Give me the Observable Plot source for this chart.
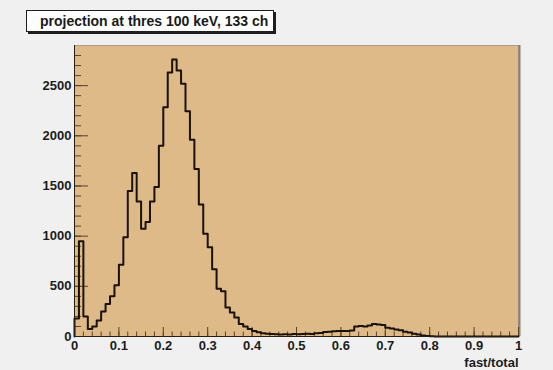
<!DOCTYPE html>
<html>
<head>
<meta charset="utf-8">
<script src="https://cdn.jsdelivr.net/npm/d3@7"></script>
<script src="https://cdn.jsdelivr.net/npm/@observablehq/plot@0.6"></script>
<style>
  body { margin: 0; background: #f0f0f0; font-family: "Liberation Sans", Arial, Helvetica, sans-serif; }
  #wrap { position: relative; width: 553px; height: 370px; }
  #title {
    position: absolute; left: 26px; top: 10px; width: 248px; height: 22px;
    box-sizing: border-box; background: #fdfdfd; border: 1px solid #1e1e1e;
    box-shadow: 2px 2px 0 #1e1e1e; font-weight: bold; font-size: 14px;
    line-height: 20px; padding-left: 13px; color: #1a1a1a; white-space: nowrap;
  }
  svg { display: block; }
</style>
</head>
<body>
<div id="wrap">
  <div id="title"></div>
</div>
<script>
// Histogram title and axis title
const titleText = "projection at thres 100 keV, 133 ch";
const xTitle = "fast/total";

// 100 bins of width 0.01 over fast/total in [0, 1]
const binWidth = 0.01;
const counts = [
  180, 950, 200, 75, 100, 160, 250, 325, 400, 510,
  715, 990, 1450, 1630, 1345, 1075, 1140, 1345, 1490, 1900,
  2285, 2630, 2760, 2650, 2520, 2245, 1960, 1670, 1315, 1025,
  890, 670, 475, 450, 290, 240, 190, 125, 100, 75,
  55, 42, 32, 28, 25, 22, 20, 22, 20, 24,
  22, 25, 28, 26, 32, 35, 45, 48, 52, 55,
  55, 55, 60, 100, 105, 100, 110, 125, 120, 115,
  88, 80, 70, 62, 48, 40, 28, 20, 10, 5,
  3, 0, 0, 0, 0, 0, 0, 0, 0, 0,
  0, 0, 0, 0, 0, 0, 0, 0, 0, 0
];

// Axis tick values and labels
const xMajor = [0, 0.1, 0.2, 0.3, 0.4, 0.5, 0.6, 0.7, 0.8, 0.9, 1];
const xLabels = ["0", "0.1", "0.2", "0.3", "0.4", "0.5", "0.6", "0.7", "0.8", "0.9", "1"];
const yMajor = [0, 500, 1000, 1500, 2000, 2500];
const yMax = 2900;

document.getElementById("title").textContent = titleText;

// Outline of the histogram as a step path over the bin edges
const steps = [{x: 0, y: 0}]
  .concat(counts.map((c, i) => ({x: i * binWidth, y: c})))
  .concat([{x: 1, y: counts[counts.length - 1]}, {x: 1, y: 0}]);

const xMinor = d3.range(0, 51).map(i => i / 50);
const yMinor = d3.range(0, 29).map(i => i * 100);

const W = 553, H = 370;
const mL = 74, mR = 35, mT = 45, mB = 34;
const innerW = W - mL - mR, innerH = H - mT - mB;

const tickColor = "#5c4128";
const textStyle = {fontSize: 13, fontWeight: "bold", fill: "#1c1c1c"};

const chart = Plot.plot({
  width: W,
  height: H,
  marginLeft: mL,
  marginRight: mR,
  marginTop: mT,
  marginBottom: mB,
  style: {background: "transparent", fontFamily: "'Liberation Sans', Arial, sans-serif"},
  x: {domain: [0, 1]},
  y: {domain: [0, yMax]},
  marks: [
    Plot.frame({fill: "#deba88", stroke: "#a89b8a"}),
    Plot.ruleX([1], {stroke: "#8a7f70", strokeWidth: 2, dx: 1}),
    // minor and major ticks, pointing into the frame
    Plot.tickY(yMinor, {y: d => d, stroke: tickColor, insetRight: innerW - 7}),
    Plot.tickY(yMajor, {y: d => d, stroke: tickColor, insetRight: innerW - 14}),
    Plot.tickX(xMinor, {x: d => d, stroke: tickColor, insetTop: innerH - 4.5}),
    Plot.tickX(xMajor, {x: d => d, stroke: tickColor, insetTop: innerH - 9}),
    Plot.line(steps, {x: "x", y: "y", curve: "step-after", stroke: "#1a1208", strokeWidth: 2}),
    Plot.ruleX([0], {stroke: "#2a1d10"}),
    Plot.ruleY([0], {stroke: "#2a1d10"}),
    Plot.axisY(yMajor, {tickSize: 0, tickPadding: 3, label: null, tickFormat: d => String(d), ...textStyle}),
    Plot.axisX(xMajor, {tickSize: 0, tickPadding: 4, label: null, tickFormat: (d, i) => xLabels[i], ...textStyle}),
    Plot.text([xTitle], {frameAnchor: "bottom-right", textAnchor: "end", lineAnchor: "middle", dy: 26, ...textStyle})
  ]
});

document.getElementById("wrap").appendChild(chart);
</script>
</body>
</html>
